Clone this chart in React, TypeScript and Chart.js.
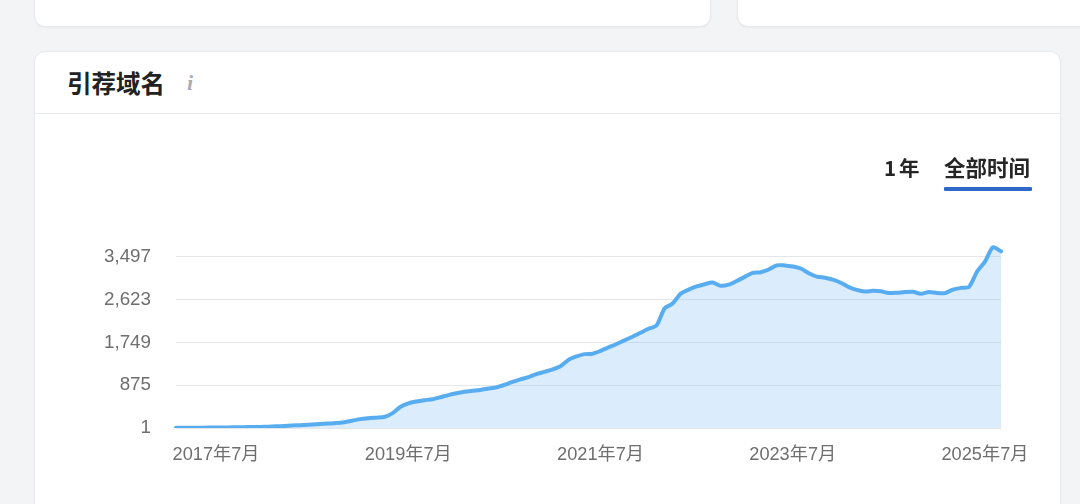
import React, { useEffect, useRef } from "react";
import { Chart, registerables } from "chart.js";

Chart.register(...registerables);

// Monthly series, Feb 2017 .. Sep 2025
const START_YEAR = 2017;
const START_MONTH = 2;
const referringDomains: number[] = [
  5, 6, 7, 8, 9, 10, 12, 14, 16, 19,
  22, 26, 31, 38, 46, 55, 63, 72, 82, 92,
  102, 120, 150, 182, 200, 212, 225, 300, 430, 502,
  540, 567, 588, 628, 672, 710, 740, 760, 778, 805,
  830, 880, 940, 992, 1040, 1100, 1145, 1195, 1260, 1390,
  1460, 1508, 1517, 1575, 1645, 1715, 1790, 1862, 1945, 2025,
  2095, 2440, 2540, 2739, 2825, 2890, 2935, 2968, 2903, 2925,
  3000, 3085, 3165, 3180, 3235, 3320, 3318, 3295, 3255, 3160,
  3090, 3068, 3030, 2965, 2875, 2818, 2785, 2800, 2790, 2755,
  2760, 2775, 2780, 2740, 2778, 2755, 2753, 2825, 2860, 2880,
  3190, 3395, 3690, 3606,
];

const monthLabels: string[] = referringDomains.map((_, i) => {
  const m0 = START_MONTH - 1 + i;
  const y = START_YEAR + Math.floor(m0 / 12);
  const m = (m0 % 12) + 1;
  return `${y}年${m}月`;
});

const xTickLabels: string[] = ["2017年7月", "2019年7月", "2021年7月", "2023年7月", "2025年7月"];
const yTickValues: number[] = [1, 875, 1749, 2623, 3497];
const Y_MIN = 1;
const Y_MAX = 4000;

const TICK_FONT = "'Liberation Sans', 'Noto Sans CJK SC', sans-serif";
const UI_FONT = "'Noto Sans CJK SC', 'Noto Sans', sans-serif";

function RefChart() {
  const ref = useRef<HTMLCanvasElement | null>(null);
  useEffect(() => {
    if (!ref.current) return;
    const chart = new Chart(ref.current, {
      type: "line",
      data: {
        labels: monthLabels,
        datasets: [
          {
            data: referringDomains,
            borderColor: "#58adf0",
            borderWidth: 4,
            backgroundColor: "rgba(150, 200, 245, 0.34)",
            fill: "start",
            pointRadius: 0,
            pointHoverRadius: 0,
            tension: 0.25,
            borderJoinStyle: "round",
            borderCapStyle: "round",
          },
        ],
      },
      options: {
        animation: false,
        responsive: false,
        maintainAspectRatio: false,
        layout: { padding: { left: 0, right: 61, top: 118, bottom: 37 } },
        plugins: { legend: { display: false }, tooltip: { enabled: false } },
        scales: {
          x: {
            type: "category",
            offset: false,
            grid: { display: false, drawTicks: false },
            border: { display: false },
            afterFit: (scale: any) => {
              scale.height = 40;
            },
            ticks: {
              autoSkip: false,
              maxRotation: 0,
              minRotation: 0,
              padding: 16,
              color: "#6e6e6e",
              font: { family: TICK_FONT, size: 18.2 },
              callback: function (this: any, _v: any, idx: number) {
                const l = monthLabels[idx];
                return xTickLabels.includes(l) ? l : null;
              },
            },
          },
          y: {
            type: "linear",
            min: Y_MIN,
            max: Y_MAX,
            grid: { color: "#e4e6ea", lineWidth: 1, drawTicks: false },
            border: { display: false },
            afterFit: (scale: any) => {
              scale.width = 141;
            },
            afterBuildTicks: (scale: any) => {
              scale.ticks = yTickValues.map((v) => ({ value: v }));
            },
            ticks: {
              padding: 25,
              color: "#6e6e6e",
              font: { family: TICK_FONT, size: 18.8 },
              callback: (v: any) => Number(v).toLocaleString("en-US"),
            },
          },
        },
      },
    });
    return () => chart.destroy();
  }, []);
  return (
    <canvas
      ref={ref}
      width={1027}
      height={391}
      style={{ position: "absolute", left: 0, top: 62, width: 1027, height: 391, display: "block" }}
    />
  );
}

export default function App() {
  const card: React.CSSProperties = {
    position: "absolute",
    background: "#ffffff",
    borderRadius: 11,
    border: "1px solid #e7e9ec",
    boxShadow: "0 1px 2px rgba(0,0,0,0.04)",
    boxSizing: "border-box",
  };
  return (
    <div
      style={{
        position: "fixed",
        left: 0,
        top: 0,
        width: 1080,
        height: 504,
        overflow: "hidden",
        background: "#f3f4f6",
        fontFamily: UI_FONT,
      }}
    >
      <div style={{ ...card, left: 34, top: -30, width: 677, height: 57 }} />
      <div style={{ ...card, left: 737, top: -30, width: 400, height: 57 }} />
      <div style={{ ...card, left: 34, top: 51, width: 1027, height: 480, overflow: "hidden" }}>
        <div
          style={{
            position: "absolute",
            left: 32,
            top: 16,
            height: 30,
            lineHeight: "30px",
            fontSize: 24.5,
            fontWeight: 700,
            color: "#222222",
            whiteSpace: "nowrap",
          }}
        >
          引荐域名
        </div>
        <div
          style={{
            position: "absolute",
            left: 152,
            top: 18,
            height: 26,
            lineHeight: "26px",
            fontSize: 22,
            fontStyle: "italic",
            fontWeight: 700,
            fontFamily: "'Liberation Serif', serif",
            color: "#a8acb2",
          }}
        >
          i
        </div>
        <div style={{ position: "absolute", left: 0, top: 61, width: "100%", height: 1, background: "#e7e9ec" }} />
        <RefChart />
        <div
          style={{
            position: "absolute",
            left: 849,
            top: 101,
            height: 28,
            lineHeight: "28px",
            fontSize: 20.5,
            fontWeight: 600,
            color: "#262626",
            whiteSpace: "nowrap",
          }}
        >
          <span style={{ marginRight: 3 }}>1</span>年
        </div>
        <div
          style={{
            position: "absolute",
            left: 909,
            top: 101,
            height: 28,
            lineHeight: "28px",
            fontSize: 21.5,
            fontWeight: 600,
            color: "#262626",
            whiteSpace: "nowrap",
          }}
        >
          全部时间
        </div>
        <div
          style={{
            position: "absolute",
            left: 909,
            top: 135,
            width: 88,
            height: 4,
            background: "#2e68c8",
            borderRadius: 1,
          }}
        />
      </div>
    </div>
  );
}
